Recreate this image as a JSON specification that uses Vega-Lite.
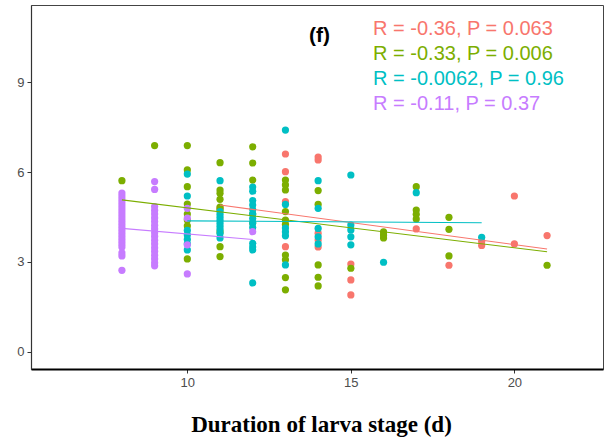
{
  "$schema": "https://vega.github.io/schema/vega-lite/v6.json",
  "width": 572,
  "height": 364,
  "autosize": {"type": "none"},
  "padding": {"left": 31, "top": 5, "right": 2, "bottom": 69},
  "background": "white",
  "config": {
    "view": {"stroke": "#444", "strokeWidth": 1},
    "font": "Liberation Sans",
    "axis": {"grid": false, "labelFont": "Liberation Sans", "labelColor": "#4D4D4D", "labelFontSize": 13, "tickColor": "#333", "tickSize": 4, "labelPadding": 3}
  },
  "datasets": {
    "points": [
      {"x": 11, "y": 4.8, "g": "G1"},
      {"x": 13, "y": 6.6, "g": "G1"}, {"x": 13, "y": 6.01, "g": "G1"}, {"x": 13, "y": 5.01, "g": "G1"}, {"x": 13, "y": 3.51, "g": "G1"},
      {"x": 14, "y": 6.5, "g": "G1"}, {"x": 14, "y": 6.4, "g": "G1"}, {"x": 14, "y": 3.96, "g": "G1"}, {"x": 14, "y": 3.73, "g": "G1"}, {"x": 14, "y": 3.5, "g": "G1"},
      {"x": 15, "y": 2.93, "g": "G1"}, {"x": 15, "y": 2.4, "g": "G1"}, {"x": 15, "y": 1.9, "g": "G1"},
      {"x": 17, "y": 4.1, "g": "G1"},
      {"x": 18, "y": 2.89, "g": "G1"},
      {"x": 19, "y": 3.68, "g": "G1"}, {"x": 19, "y": 3.55, "g": "G1"},
      {"x": 20, "y": 5.2, "g": "G1"}, {"x": 20, "y": 3.6, "g": "G1"},
      {"x": 21, "y": 3.88, "g": "G1"},

      {"x": 8, "y": 5.71, "g": "G2"},
      {"x": 9, "y": 6.88, "g": "G2"},
      {"x": 10, "y": 6.88, "g": "G2"}, {"x": 10, "y": 6.07, "g": "G2"}, {"x": 10, "y": 5.51, "g": "G2"}, {"x": 10, "y": 4.93, "g": "G2"}, {"x": 10, "y": 4.6, "g": "G2"}, {"x": 10, "y": 4.4, "g": "G2"}, {"x": 10, "y": 4.2, "g": "G2"}, {"x": 10, "y": 3.1, "g": "G2"},
      {"x": 11, "y": 6.31, "g": "G2"}, {"x": 11, "y": 5.4, "g": "G2"}, {"x": 11, "y": 5.29, "g": "G2"}, {"x": 11, "y": 5.09, "g": "G2"}, {"x": 11, "y": 4.83, "g": "G2"}, {"x": 11, "y": 4.75, "g": "G2"}, {"x": 11, "y": 4.0, "g": "G2"}, {"x": 11, "y": 3.51, "g": "G2"}, {"x": 11, "y": 3.18, "g": "G2"},
      {"x": 12, "y": 6.84, "g": "G2"}, {"x": 12, "y": 6.3, "g": "G2"}, {"x": 12, "y": 5.73, "g": "G2"}, {"x": 12, "y": 4.6, "g": "G2"}, {"x": 12, "y": 4.3, "g": "G2"},
      {"x": 13, "y": 5.73, "g": "G2"}, {"x": 13, "y": 5.57, "g": "G2"}, {"x": 13, "y": 5.4, "g": "G2"}, {"x": 13, "y": 4.68, "g": "G2"}, {"x": 13, "y": 4.4, "g": "G2"}, {"x": 13, "y": 4.25, "g": "G2"}, {"x": 13, "y": 3.23, "g": "G2"}, {"x": 13, "y": 3.07, "g": "G2"}, {"x": 13, "y": 2.48, "g": "G2"}, {"x": 13, "y": 2.07, "g": "G2"},
      {"x": 14, "y": 5.38, "g": "G2"}, {"x": 14, "y": 4.92, "g": "G2"}, {"x": 14, "y": 2.9, "g": "G2"}, {"x": 14, "y": 2.49, "g": "G2"}, {"x": 14, "y": 2.2, "g": "G2"},
      {"x": 15, "y": 2.79, "g": "G2"},
      {"x": 16, "y": 4.0, "g": "G2"}, {"x": 16, "y": 3.9, "g": "G2"}, {"x": 16, "y": 3.8, "g": "G2"},
      {"x": 17, "y": 5.51, "g": "G2"}, {"x": 17, "y": 4.73, "g": "G2"}, {"x": 17, "y": 4.59, "g": "G2"}, {"x": 17, "y": 4.43, "g": "G2"},
      {"x": 18, "y": 4.49, "g": "G2"}, {"x": 18, "y": 4.09, "g": "G2"}, {"x": 18, "y": 3.2, "g": "G2"},
      {"x": 21, "y": 2.89, "g": "G2"},

      {"x": 10, "y": 5.93, "g": "G3"}, {"x": 10, "y": 5.2, "g": "G3"}, {"x": 10, "y": 4.05, "g": "G3"}, {"x": 10, "y": 3.9, "g": "G3"}, {"x": 10, "y": 3.75, "g": "G3"}, {"x": 10, "y": 3.6, "g": "G3"}, {"x": 10, "y": 3.4, "g": "G3"},
      {"x": 11, "y": 5.71, "g": "G3"}, {"x": 11, "y": 4.68, "g": "G3"}, {"x": 11, "y": 4.58, "g": "G3"}, {"x": 11, "y": 4.48, "g": "G3"}, {"x": 11, "y": 4.38, "g": "G3"}, {"x": 11, "y": 4.28, "g": "G3"}, {"x": 11, "y": 4.18, "g": "G3"}, {"x": 11, "y": 4.08, "g": "G3"}, {"x": 11, "y": 3.95, "g": "G3"}, {"x": 11, "y": 3.8, "g": "G3"},
      {"x": 12, "y": 5.5, "g": "G3"}, {"x": 12, "y": 5.36, "g": "G3"}, {"x": 12, "y": 5.05, "g": "G3"}, {"x": 12, "y": 4.9, "g": "G3"}, {"x": 12, "y": 4.75, "g": "G3"}, {"x": 12, "y": 4.6, "g": "G3"}, {"x": 12, "y": 4.45, "g": "G3"}, {"x": 12, "y": 4.3, "g": "G3"}, {"x": 12, "y": 4.15, "g": "G3"}, {"x": 12, "y": 3.62, "g": "G3"}, {"x": 12, "y": 3.5, "g": "G3"}, {"x": 12, "y": 3.4, "g": "G3"}, {"x": 12, "y": 2.3, "g": "G3"},
      {"x": 13, "y": 7.4, "g": "G3"}, {"x": 13, "y": 4.92, "g": "G3"}, {"x": 13, "y": 4.13, "g": "G3"}, {"x": 13, "y": 4.0, "g": "G3"}, {"x": 13, "y": 3.87, "g": "G3"}, {"x": 13, "y": 2.9, "g": "G3"},
      {"x": 14, "y": 5.71, "g": "G3"}, {"x": 14, "y": 4.79, "g": "G3"}, {"x": 14, "y": 4.12, "g": "G3"}, {"x": 14, "y": 3.84, "g": "G3"}, {"x": 14, "y": 3.6, "g": "G3"},
      {"x": 15, "y": 5.9, "g": "G3"}, {"x": 15, "y": 4.23, "g": "G3"}, {"x": 15, "y": 4.07, "g": "G3"}, {"x": 15, "y": 3.84, "g": "G3"}, {"x": 15, "y": 3.57, "g": "G3"},
      {"x": 16, "y": 2.99, "g": "G3"},
      {"x": 17, "y": 5.31, "g": "G3"},
      {"x": 19, "y": 3.82, "g": "G3"},

      {"x": 8, "y": 5.3, "g": "G4"}, {"x": 8, "y": 5.2, "g": "G4"}, {"x": 8, "y": 5.1, "g": "G4"}, {"x": 8, "y": 5.0, "g": "G4"}, {"x": 8, "y": 4.9, "g": "G4"}, {"x": 8, "y": 4.8, "g": "G4"}, {"x": 8, "y": 4.7, "g": "G4"}, {"x": 8, "y": 4.6, "g": "G4"}, {"x": 8, "y": 4.5, "g": "G4"}, {"x": 8, "y": 4.4, "g": "G4"}, {"x": 8, "y": 4.3, "g": "G4"}, {"x": 8, "y": 4.2, "g": "G4"}, {"x": 8, "y": 4.1, "g": "G4"}, {"x": 8, "y": 4.0, "g": "G4"}, {"x": 8, "y": 3.9, "g": "G4"}, {"x": 8, "y": 3.8, "g": "G4"}, {"x": 8, "y": 3.7, "g": "G4"}, {"x": 8, "y": 3.6, "g": "G4"}, {"x": 8, "y": 3.5, "g": "G4"}, {"x": 8, "y": 3.3, "g": "G4"}, {"x": 8, "y": 3.2, "g": "G4"}, {"x": 8, "y": 2.72, "g": "G4"},
      {"x": 9, "y": 5.68, "g": "G4"}, {"x": 9, "y": 5.42, "g": "G4"}, {"x": 9, "y": 4.85, "g": "G4"}, {"x": 9, "y": 4.72, "g": "G4"}, {"x": 9, "y": 4.6, "g": "G4"}, {"x": 9, "y": 4.47, "g": "G4"}, {"x": 9, "y": 4.35, "g": "G4"}, {"x": 9, "y": 4.22, "g": "G4"}, {"x": 9, "y": 4.1, "g": "G4"}, {"x": 9, "y": 3.97, "g": "G4"}, {"x": 9, "y": 3.85, "g": "G4"}, {"x": 9, "y": 3.72, "g": "G4"}, {"x": 9, "y": 3.6, "g": "G4"}, {"x": 9, "y": 3.47, "g": "G4"}, {"x": 9, "y": 3.35, "g": "G4"}, {"x": 9, "y": 3.22, "g": "G4"}, {"x": 9, "y": 3.1, "g": "G4"}, {"x": 9, "y": 2.97, "g": "G4"}, {"x": 9, "y": 2.87, "g": "G4"},
      {"x": 10, "y": 4.79, "g": "G4"}, {"x": 10, "y": 4.46, "g": "G4"}, {"x": 10, "y": 3.57, "g": "G4"}, {"x": 10, "y": 2.6, "g": "G4"},
      {"x": 12, "y": 4.01, "g": "G4"}
    ],
    "fits": [
      {"x": 11, "y": 4.9, "g": "G1"}, {"x": 21, "y": 3.43, "g": "G1"},
      {"x": 8, "y": 5.07, "g": "G2"}, {"x": 21, "y": 3.34, "g": "G2"},
      {"x": 10, "y": 4.37, "g": "G3"}, {"x": 19, "y": 4.31, "g": "G3"},
      {"x": 8, "y": 4.12, "g": "G4"}, {"x": 12, "y": 3.75, "g": "G4"}
    ],
    "stats": [
      {"x": 15.68, "y": 10.77, "g": "G1", "label": "R = -0.36, P = 0.063"},
      {"x": 15.68, "y": 9.93, "g": "G2", "label": "R = -0.33, P = 0.006"},
      {"x": 15.68, "y": 9.1, "g": "G3", "label": "R = -0.0062, P = 0.96"},
      {"x": 15.68, "y": 8.27, "g": "G4", "label": "R = -0.11, P = 0.37"}
    ],
    "panel": [
      {"x": 14.04, "y": 10.55, "label": "(f)"}
    ]
  },
  "encoding": {
    "x": {
      "field": "x", "type": "quantitative",
      "scale": {"domain": [5.22, 22.71], "nice": false, "zero": false},
      "axis": {
        "values": [10, 15, 20],
        "title": "Duration of larva stage (d)",
        "titleFont": "Liberation Serif", "titleFontWeight": "bold", "titleFontSize": 23, "titleColor": "#000",
        "titleBaseline": "alphabetic", "titleY": 62, "titleX": 290, "titleAlign": "center",
        "domainColor": "#000", "domainWidth": 2
      }
    },
    "y": {
      "field": "y", "type": "quantitative",
      "scale": {"domain": [-0.57, 11.57], "nice": false, "zero": false},
      "axis": {"values": [0, 3, 6, 9], "title": null, "domainColor": "#333", "domainWidth": 1.2}
    },
    "color": {
      "field": "g", "type": "nominal",
      "scale": {"domain": ["G1", "G2", "G3", "G4"], "range": ["#F8766D", "#7CAE00", "#00BFC4", "#C77CFF"]},
      "legend": null
    }
  },
  "layer": [
    {
      "data": {"name": "points"},
      "mark": {"type": "circle", "size": 52, "opacity": 1}
    },
    {
      "data": {"name": "fits"},
      "mark": {"type": "line", "strokeWidth": 1.1}
    },
    {
      "data": {"name": "stats"},
      "mark": {"type": "text", "align": "left", "baseline": "middle", "fontSize": 20, "font": "Liberation Sans"},
      "encoding": {"text": {"field": "label"}}
    },
    {
      "data": {"name": "panel"},
      "mark": {"type": "text", "align": "center", "baseline": "middle", "fontSize": 21, "fontWeight": "bold", "font": "Liberation Sans", "color": "#000"},
      "encoding": {"text": {"field": "label"}, "color": {"value": "#000"}}
    }
  ]
}
